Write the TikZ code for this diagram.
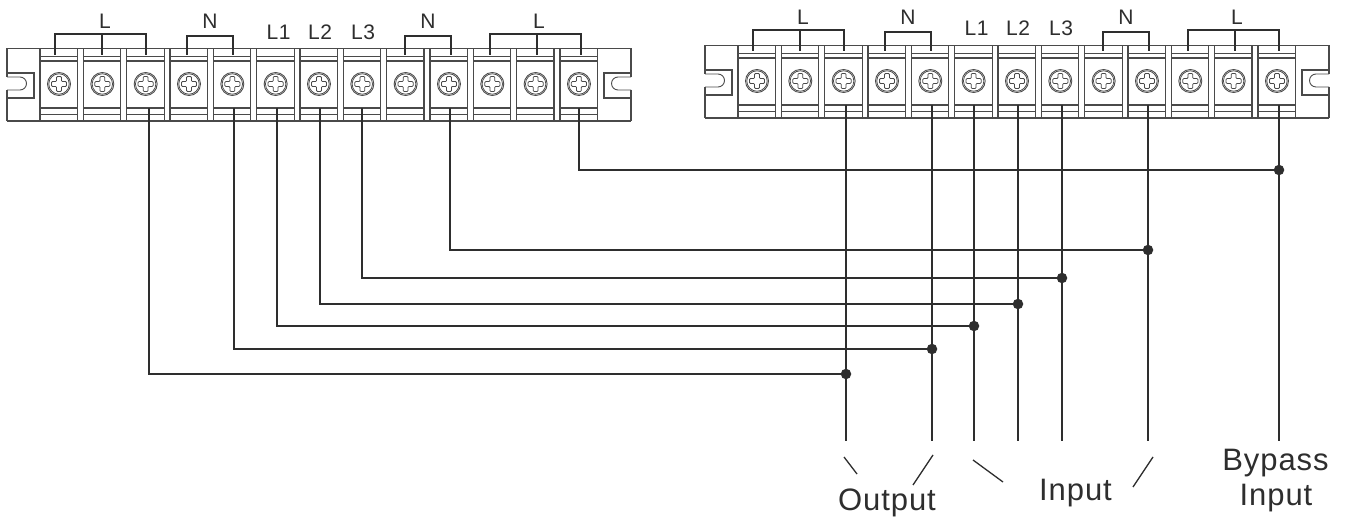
\documentclass[tikz,border=0pt]{standalone}
\usepackage{fontspec}
\setmainfont{Liberation Sans}
\definecolor{ink}{HTML}{2E2E2E}
\definecolor{edge}{HTML}{4A4A4A}
\tikzset{
  wire/.style={draw=ink,line width=1.6pt},
  brace/.style={draw=ink,line width=1.6pt},
  outline/.style={draw=edge,line width=1.3pt},
  thin part/.style={draw=edge,line width=0.9pt},
  screw part/.style={draw=edge,line width=0.75pt},
  tag/.style={font=\fontsize{21}{21}\selectfont\addfontfeature{LetterSpace=3},text=ink,anchor=base,inner sep=0pt},
  bigtag/.style={font=\fontsize{31}{31}\selectfont\addfontfeature{LetterSpace=3},text=ink,anchor=base,inner sep=0pt},
  joint/.style={circle,fill=ink,draw=none,inner sep=0pt,minimum size=10.5pt},
  tick/.style={draw=ink,line width=1.3pt},
}
\newcommand{\termblock}[4]{% prefix, dx, dy, extra dy of labels
  \begin{scope}[shift={(#2,#3)}]
    \draw[outline] (7,48.5) -- (631,48.5);
    \draw[outline] (7,121) -- (631,121);
    \draw[outline] (7,48.5) -- (7,77) (7,90) -- (7,121);
    \draw[outline] (631,48.5) -- (631,77) (631,90) -- (631,121);
    % mounting slots
    \draw[outline] (7,73) -- (34,73) -- (34,98) -- (7,98);
    \draw[thin part] (7,77) -- (20,77) arc[start angle=-90,end angle=90,radius=6.5] -- (7,90);
    \draw[outline] (631,73) -- (604,73) -- (604,98) -- (631,98);
    \draw[thin part] (631,77) -- (618,77) arc[start angle=270,end angle=90,radius=6.5] -- (631,90);
    \foreach \i in {0,...,12}{
      \pgfmathsetmacro{\c}{59+43.33*\i}
      \begin{scope}[shift={(\c,84)}]
        \draw[outline] (-19,-35.5) -- (-19,37);
        \draw[outline] (18.5,-35.5) -- (18.5,37);
        \draw[thin part] (-19,-28) -- (18.5,-28);
        \draw[outline] (-19,-23) -- (18.5,-23);
        \draw[outline] (-19,24) -- (18.5,24);
        \draw[thin part] (-19,30) -- (18.5,30);
        \draw[thin part] (0,0) circle[radius=11.5];
        \draw[screw part] (0,0) circle[radius=10.2];
        \draw[screw part,rounded corners=1pt]
          (-2.4,-7.6) -- (2.4,-7.6) -- (2.4,-2.4) -- (7.6,-2.4) -- (7.6,2.4) -- (2.4,2.4)
          -- (2.4,7.6) -- (-2.4,7.6) -- (-2.4,2.4) -- (-7.6,2.4) -- (-7.6,-2.4) -- (-2.4,-2.4) -- cycle;
      \end{scope}
    }
    \begin{scope}[shift={(0,#4)}]
    % labels and bridges
    \node[tag] (#1La) at (105,28.5) {L};
    \node[tag] (#1Na) at (210,28.5) {N};
    \node[tag] (#1A) at (278.5,39.5) {L1};
    \node[tag] (#1B) at (320,39.5) {L2};
    \node[tag] (#1C) at (363,39.5) {L3};
    \node[tag] (#1Nb) at (428,28.5) {N};
    \node[tag] (#1Lb) at (539,28.5) {L};
    \draw[brace] (55,55) -- (55,34) -- (146,34) -- (146,55) (102,34) -- (102,55);
    \draw[brace] (187,55) -- (187,36) -- (233,36) -- (233,55);
    \draw[brace] (405,55) -- (405,36) -- (451,36) -- (451,55);
    \draw[brace] (490,55) -- (490,34) -- (581,34) -- (581,55) (537,34) -- (537,55);
    \end{scope}
  \end{scope}
}
\begin{document}
\begin{tikzpicture}[x=1pt,y=-1pt]
  \useasboundingbox (0,0) rectangle (1346,518);
  \fill[white] (0,0) rectangle (1346,518);
  \termblock{p}{0}{0}{0}
  \termblock{q}{698}{-3}{-1}

  % left-block terminal coordinates
  \coordinate (a1) at (149,108);
  \coordinate (a2) at (234,108);
  \coordinate (a3) at (277,108);
  \coordinate (a4) at (320,108);
  \coordinate (a5) at (362,108);
  \coordinate (a6) at (450,108);
  \coordinate (a7) at (579,108);
  % right-block terminal coordinates
  \coordinate (b1) at (846,105);
  \coordinate (b2) at (932,105);
  \coordinate (b3) at (974,105);
  \coordinate (b4) at (1018,105);
  \coordinate (b5) at (1062,105);
  \coordinate (b6) at (1148,105);
  \coordinate (b7) at (1279,105);
  % free ends
  \coordinate (e1) at (846,441);
  \coordinate (e2) at (932,441);
  \coordinate (e3) at (974,441);
  \coordinate (e4) at (1018,441);
  \coordinate (e5) at (1062,441);
  \coordinate (e6) at (1148,441);
  \coordinate (e7) at (1279,441);
  % junctions
  \node[joint] (j1) at (846,374) {};
  \node[joint] (j2) at (932,349) {};
  \node[joint] (j3) at (974,326) {};
  \node[joint] (j4) at (1018,304) {};
  \node[joint] (j5) at (1062,278) {};
  \node[joint] (j6) at (1148,250) {};
  \node[joint] (j7) at (1279,170) {};

  \foreach \k in {1,...,7}{
    \draw[wire] (b\k) -- (e\k);
    \draw[wire] (a\k) |- (j\k.center);
  }

  % captions
  \node[bigtag] (out) at (887,510) {Output};
  \node[bigtag] (inp) at (1075.5,500) {Input};
  \node[bigtag] (byp) at (1275.5,470.5) {Bypass};
  \node[bigtag] (byi) at (1276,505) {Input};

  \coordinate (s1a) at (844,457); \coordinate (s1b) at (857,474);
  \coordinate (s2a) at (933,455); \coordinate (s2b) at (913,485);
  \coordinate (s3a) at (973,460); \coordinate (s3b) at (1003,482);
  \coordinate (s4a) at (1153,457); \coordinate (s4b) at (1133,487);
  \foreach \k in {1,...,4}{ \draw[tick] (s\k a) -- (s\k b); }
\end{tikzpicture}
\end{document}
